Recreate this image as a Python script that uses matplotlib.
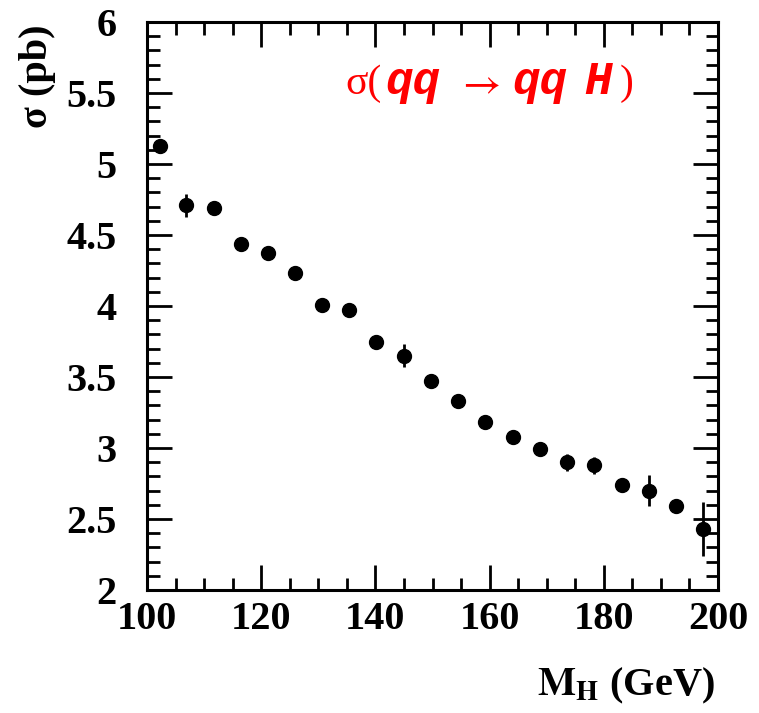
import matplotlib
matplotlib.use("Agg")
import matplotlib.pyplot as plt
from matplotlib.ticker import MultipleLocator, FuncFormatter

# data
mass = [102.3, 106.8, 111.7, 116.5, 121.2, 125.9, 130.6, 135.4, 140.1, 145.0, 149.7,
        154.5, 159.2, 164.1, 168.8, 173.6, 178.3, 183.2, 187.9, 192.6, 197.4]
sigma = [5.13, 4.71, 4.69, 4.44, 4.37, 4.23, 4.01, 3.97, 3.75, 3.65, 3.47,
         3.33, 3.18, 3.08, 2.99, 2.90, 2.88, 2.74, 2.70, 2.59, 2.43]
sigma_err = [0.03, 0.08, 0.03, 0.03, 0.03, 0.03, 0.03, 0.03, 0.03, 0.08, 0.03,
             0.03, 0.04, 0.03, 0.03, 0.06, 0.06, 0.03, 0.11, 0.03, 0.19]

plt.rcParams['mathtext.fontset'] = 'stix'
serif = 'Liberation Serif'

W, H = 759, 713
fig = plt.figure(figsize=(W/100, H/100), dpi=100)
ax = fig.add_axes([147/W, 1-590/H, (718-147)/W, (590-22)/H])

ax.errorbar(mass, sigma, yerr=sigma_err, fmt='o', color='black', ms=10,
            elinewidth=2, capsize=0)

ax.set_xlim(100, 200)
ax.set_ylim(2, 6)
ax.xaxis.set_major_locator(MultipleLocator(20))
ax.xaxis.set_minor_locator(MultipleLocator(5))
ax.yaxis.set_major_locator(MultipleLocator(0.5))
ax.yaxis.set_minor_locator(MultipleLocator(0.1))
ax.tick_params(which='both', direction='in', top=True, right=True, width=2, color='black')
ax.tick_params(which='major', length=18)
ax.tick_params(which='minor', length=9)
ax.tick_params(axis='x', pad=8)
ax.tick_params(axis='y', pad=22)
for s in ax.spines.values():
    s.set_linewidth(2.2)

ax.xaxis.set_major_formatter(FuncFormatter(lambda v, p: f"{v:g}"))
ax.yaxis.set_major_formatter(FuncFormatter(lambda v, p: f"{v:g}"))
for lab in ax.get_xticklabels() + ax.get_yticklabels():
    lab.set_fontfamily(serif); lab.set_fontweight('bold'); lab.set_fontsize(29)

fig.text(37/W, 1-25/H, 'σ (pb)', rotation=90, ha='center', va='top',
         fontsize=29, fontweight='bold', family=serif)
fig.text(715/W, 1-686/H, r'$\mathbf{M_{H}}$ (GeV)', ha='right', va='center',
         fontsize=29, fontweight='bold', family=serif)

# annotation sigma(qq -> qq H), pieces on a common baseline
red = '#ff0000'
base = 1 - 94/H
mono = dict(family=['Liberation Mono', 'DejaVu Sans Mono'], weight='bold', style='italic')
fig.text(345/W, base, 'σ(', color=red, fontsize=30, family=serif, va='baseline')
fig.text(385/W, base, 'qq', color=red, fontsize=33, va='baseline', **mono)
fig.text(456/W, base, r'$\rightarrow$', color=red, fontsize=30, va='baseline')
fig.text(512/W, base, 'qq', color=red, fontsize=33, va='baseline', **mono)
fig.text(584/W, base, 'H', color=red, fontsize=33, va='baseline', **mono)
fig.text(620/W, base, ')', color=red, fontsize=30, family=serif, va='baseline')

fig.savefig('out.png', dpi=100)
